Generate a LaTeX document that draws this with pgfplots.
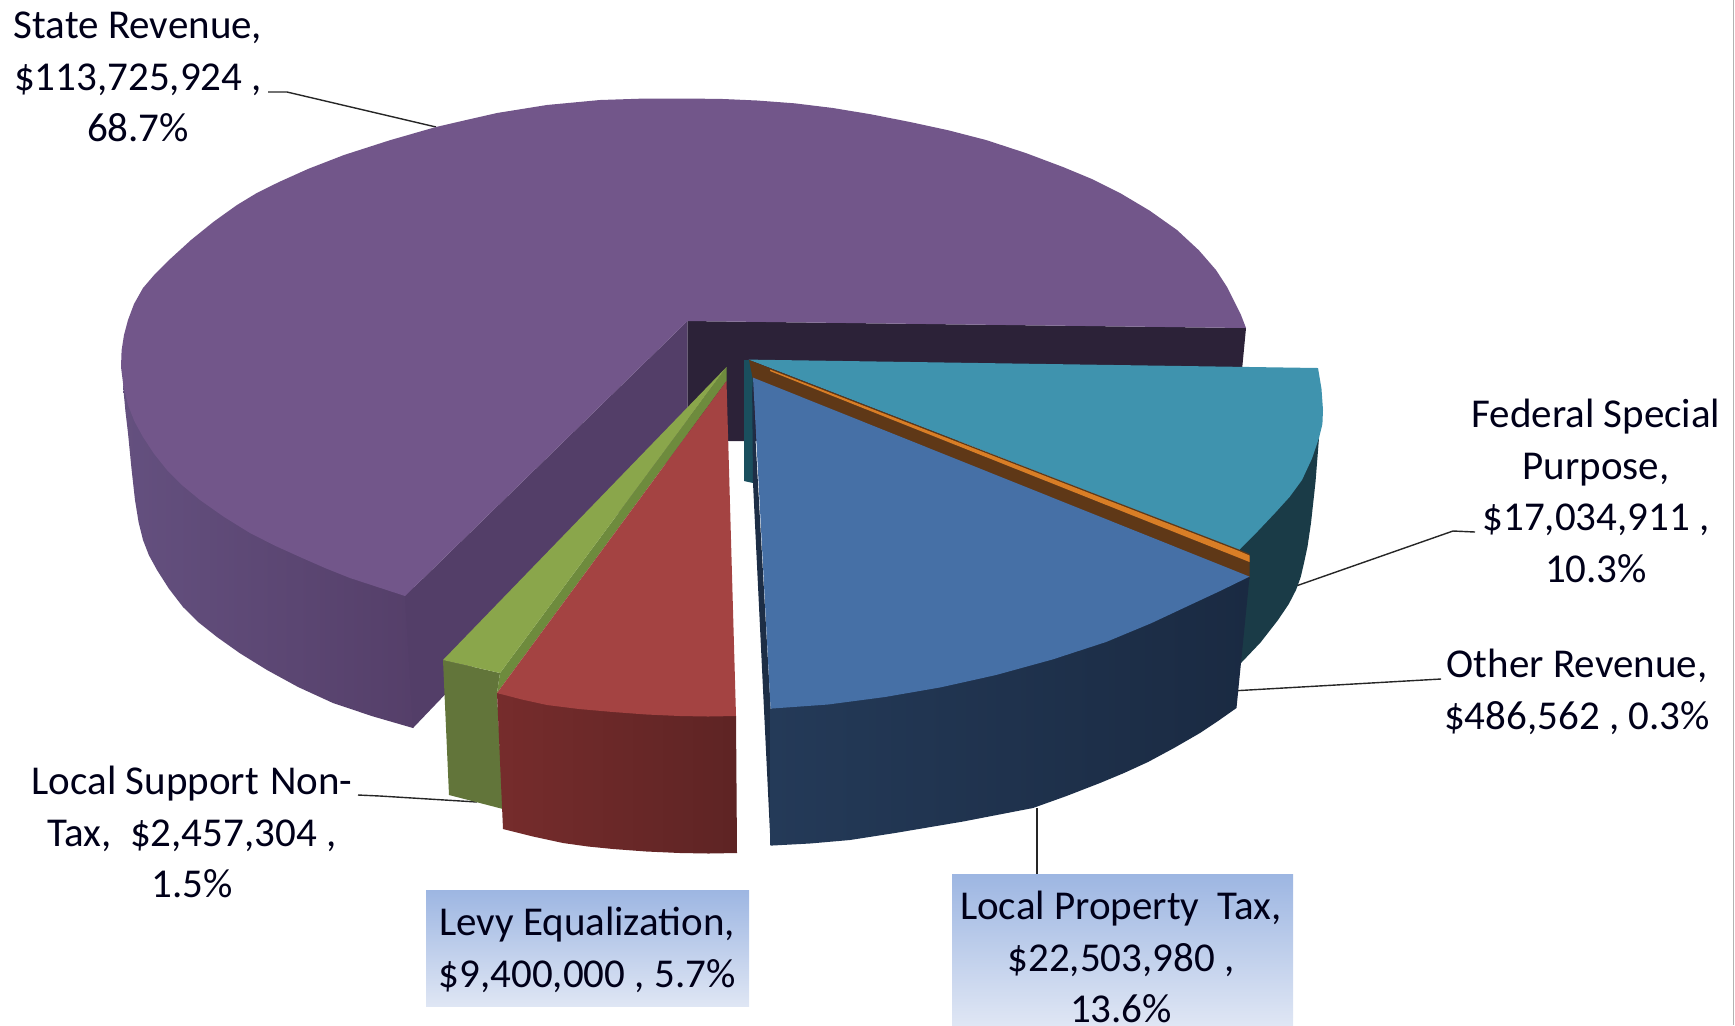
\documentclass[border=0pt]{standalone}
\usepackage{fontspec}
\setmainfont{Carlito}
\usepackage{pgfplots}
\pgfplotsset{compat=1.18}
\definecolor{ptop}{HTML}{72568A}
\definecolor{psideL}{HTML}{64507F}
\definecolor{psideR}{HTML}{543E68}
\definecolor{pwall}{HTML}{533E68}
\definecolor{pdark}{HTML}{2C2238}
\definecolor{ttop}{HTML}{3F93AE}
\definecolor{tside}{HTML}{1A3B47}
\definecolor{twall}{HTML}{1A4F5E}
\definecolor{btop}{HTML}{4670A6}
\definecolor{bsideL}{HTML}{243A58}
\definecolor{bsideR}{HTML}{1A2A42}
\definecolor{rtop}{HTML}{A44342}
\definecolor{rsideL}{HTML}{762C2C}
\definecolor{rsideR}{HTML}{5E2424}
\definecolor{gtop}{HTML}{8AA64B}
\definecolor{gside}{HTML}{62753A}
\definecolor{gwall}{HTML}{6E8B3D}
\definecolor{obright}{HTML}{D97E26}
\definecolor{obrown}{HTML}{5F3817}
\definecolor{boxT}{HTML}{9DB6E2}
\definecolor{boxB}{HTML}{DFE6F4}
\tikzset{lab/.style={align=center,inner sep=0pt,text=black!90!blue,font=\fontsize{20.5}{25.7}\selectfont},
  lead/.style={draw=black!85,line width=0.7pt}}
\begin{document}
\begin{tikzpicture}
\path[use as bounding box,clip] (0,0) rectangle (867.5pt,512.5pt);
\begin{axis}[at={(0,0)},anchor=south west,scale only axis,width=867.5pt,height=512.5pt,
  xmin=0,xmax=1735,ymin=0,ymax=1025,y dir=reverse,hide axis,
  every axis plot/.append style={forget plot}]
% label boxes
\addplot[draw=none,top color=boxT,bottom color=boxB] coordinates {(426,890)(749,890)(749,1006)(426,1006)(426,890)};
\addplot[draw=none,top color=boxT,bottom color=boxB] coordinates {(952,874)(1293,874)(1293,1025)(952,1025)(952,874)};
% leader lines
\addplot[lead] coordinates {(268,92)(287,92)(436,127)};
\addplot[lead] coordinates {(1296,586)(1453,531)(1475,532)};
\addplot[lead] coordinates {(1231,691)(1441,679)};
\addplot[lead] coordinates {(1037,808)(1037,874)};
\addplot[lead] coordinates {(358,795)(380,796)(477,802)};
\addplot[draw=black!30,line width=0.5pt] coordinates {(1733.5,0)(1733.5,1025)};
% State Revenue: side, inner walls, top
\addplot[draw=none,left color=psideL,right color=psideR] coordinates {(123,385)(125.4,411)(128,433)(131.3,466.7)(135,500)(138.6,522.3)(143,540)(148.9,555.2)(157,570)(168.8,588.5)(183,607)(198.5,622.3)(217,637)(240,653.3)(267,670)(298.1,687)(333,703)(372.3,716.2)(413,728)(430,700)(420,590)(200,490)(135,395)(123,385)};
\addplot[draw=none,fill=pwall] coordinates {(687.5,321)(405,596)(413,728)(687.5,441)(687.5,321)};
\addplot[draw=none,fill=pdark] coordinates {(687.5,321)(1246,328)(1242,370)(1240,441)(687.5,441)(687.5,321)};
\addplot[draw=none,fill=ptop] coordinates {(405,596)(350,578)(325,568)(300,557)(275,545.7)(250,533)(224,516.9)(200,500)(181.9,485)(167,470)(153.9,453.6)(143,437)(134.4,421.3)(128,405)(123.4,386)(121,367)(121.6,350.3)(124,335)(128,320)(134,304)(143,288)(155,274)(170.4,258.8)(191,240)(213.8,221.6)(237,205)(256.8,193)(279,182)(308.4,168.8)(344,155)(390.3,140.1)(436,127)(465.8,120.1)(497,113)(546.8,105)(600,100)(646,98.5)(688,98.5)(723.3,99)(757,100.5)(794.5,103.3)(833,108)(871.5,114.4)(910,122)(948,130.2)(986,140)(1025.7,153)(1063,167)(1092.8,179.4)(1120,193)(1149.6,210.6)(1177,230)(1198.9,250.3)(1216,270)(1227.3,287.4)(1235,303)(1241,315)(1246,328)(687.5,321)(405,596)};
% Federal Special Purpose
\addplot[draw=none,fill=twall] coordinates {(744,360)(753,360)(753,483)(744,481)(744,360)};
\addplot[draw=none,fill=tside] coordinates {(1319,438)(1315.5,482)(1311,523)(1307.5,546.6)(1304,563)(1300.7,577.1)(1296,590)(1288.8,604)(1278,620)(1260.5,642.5)(1241,663)(1239,550)(1319,438)};
\addplot[draw=none,fill=ttop] coordinates {(748.6,359.6)(1318,368)(1321.5,389)(1323,410)(1322.4,424)(1319,438)(1311.9,458.7)(1302,480)(1289.7,496.8)(1275,513)(1257.5,531.5)(1239,550)(748.6,359.6)};
% Other Revenue
\addplot[draw=none,fill=obrown] coordinates {(749,360)(1239,549.5)(1249.5,554)(1249.5,578)(753,380)(749,360)};
\addplot[draw=none,fill=obright] coordinates {(770,369.5)(1239,551)(1249.5,555.5)(1249.5,562)(770,371)(770,369.5)};
% Local Property Tax
\addplot[draw=none,fill=bsideL!80!black] coordinates {(752,377)(770.6,708)(770.6,845.6)(753,483)(752,377)};
\addplot[draw=none,left color=bsideL,right color=bsideR] coordinates {(770.6,708.6)(1249.5,577)(1236.5,708)(1218,721)(1200,733)(1174,748)(1148,762)(1124,773)(1100,783)(1066.5,796)(1033,808)(962.6,821.6)(895,833)(850,840)(810,843.5)(770.6,845.6)(770.6,708.6)};
\addplot[draw=none,fill=btop] coordinates {(753,377.6)(1249.5,576.6)(1220,591)(1190,605)(1151.2,623.2)(1106,642)(1052.7,659.4)(996,675)(940.8,687.3)(885,697)(828,704.5)(770.6,708.6)(753,377.6)};
% Local Support Non-Tax
\addplot[draw=none,fill=gside] coordinates {(443,660)(500,673)(497,693)(503,809)(449,795)(443,660)};
\addplot[draw=none,fill=gwall] coordinates {(726.5,367)(500,673)(497,693)(726.5,381)(726.5,367)};
\addplot[draw=none,fill=gtop] coordinates {(726.5,367)(443,660)(500,673)(726.5,367)};
% Levy Equalization
\addplot[draw=none,left color=rsideL,right color=rsideR] coordinates {(497,693)(736,716)(737,853)(708.5,853.5)(680,853)(646.5,851.5)(613,849)(588,846.5)(563,843)(533,836.5)(503,829)(497,693)};
\addplot[draw=none,fill=rtop] coordinates {(726.5,381)(736,716)(708,716.5)(680,716)(646.5,714.5)(613,712)(579,709)(547,705)(522,699.5)(497,693)(726.5,381)};
% labels
\node[lab] at (axis cs:138,77) {State Revenue,\\\$113,725,924 ,\\68.7\%};
\node[lab] at (axis cs:1596,491) {Federal Special\\Purpose,\\\$17,034,911 ,\\10.3\%};
\node[lab] at (axis cs:1577,692) {Other Revenue,\\\$486,562 , 0.3\%};
\node[lab] at (axis cs:192,832) {Local Support~\hspace{0.05em}Non-\\Tax,~~\$2,457,304 ,\\1.5\%};
\node[lab] at (axis cs:587,950) {Levy Equalization,\\\$9,400,000 , 5.7\%};
\node[lab] at (axis cs:1121,957) {Local Property~~Tax,\\\$22,503,980 ,\\13.6\%};
\end{axis}
\end{tikzpicture}
\end{document}
